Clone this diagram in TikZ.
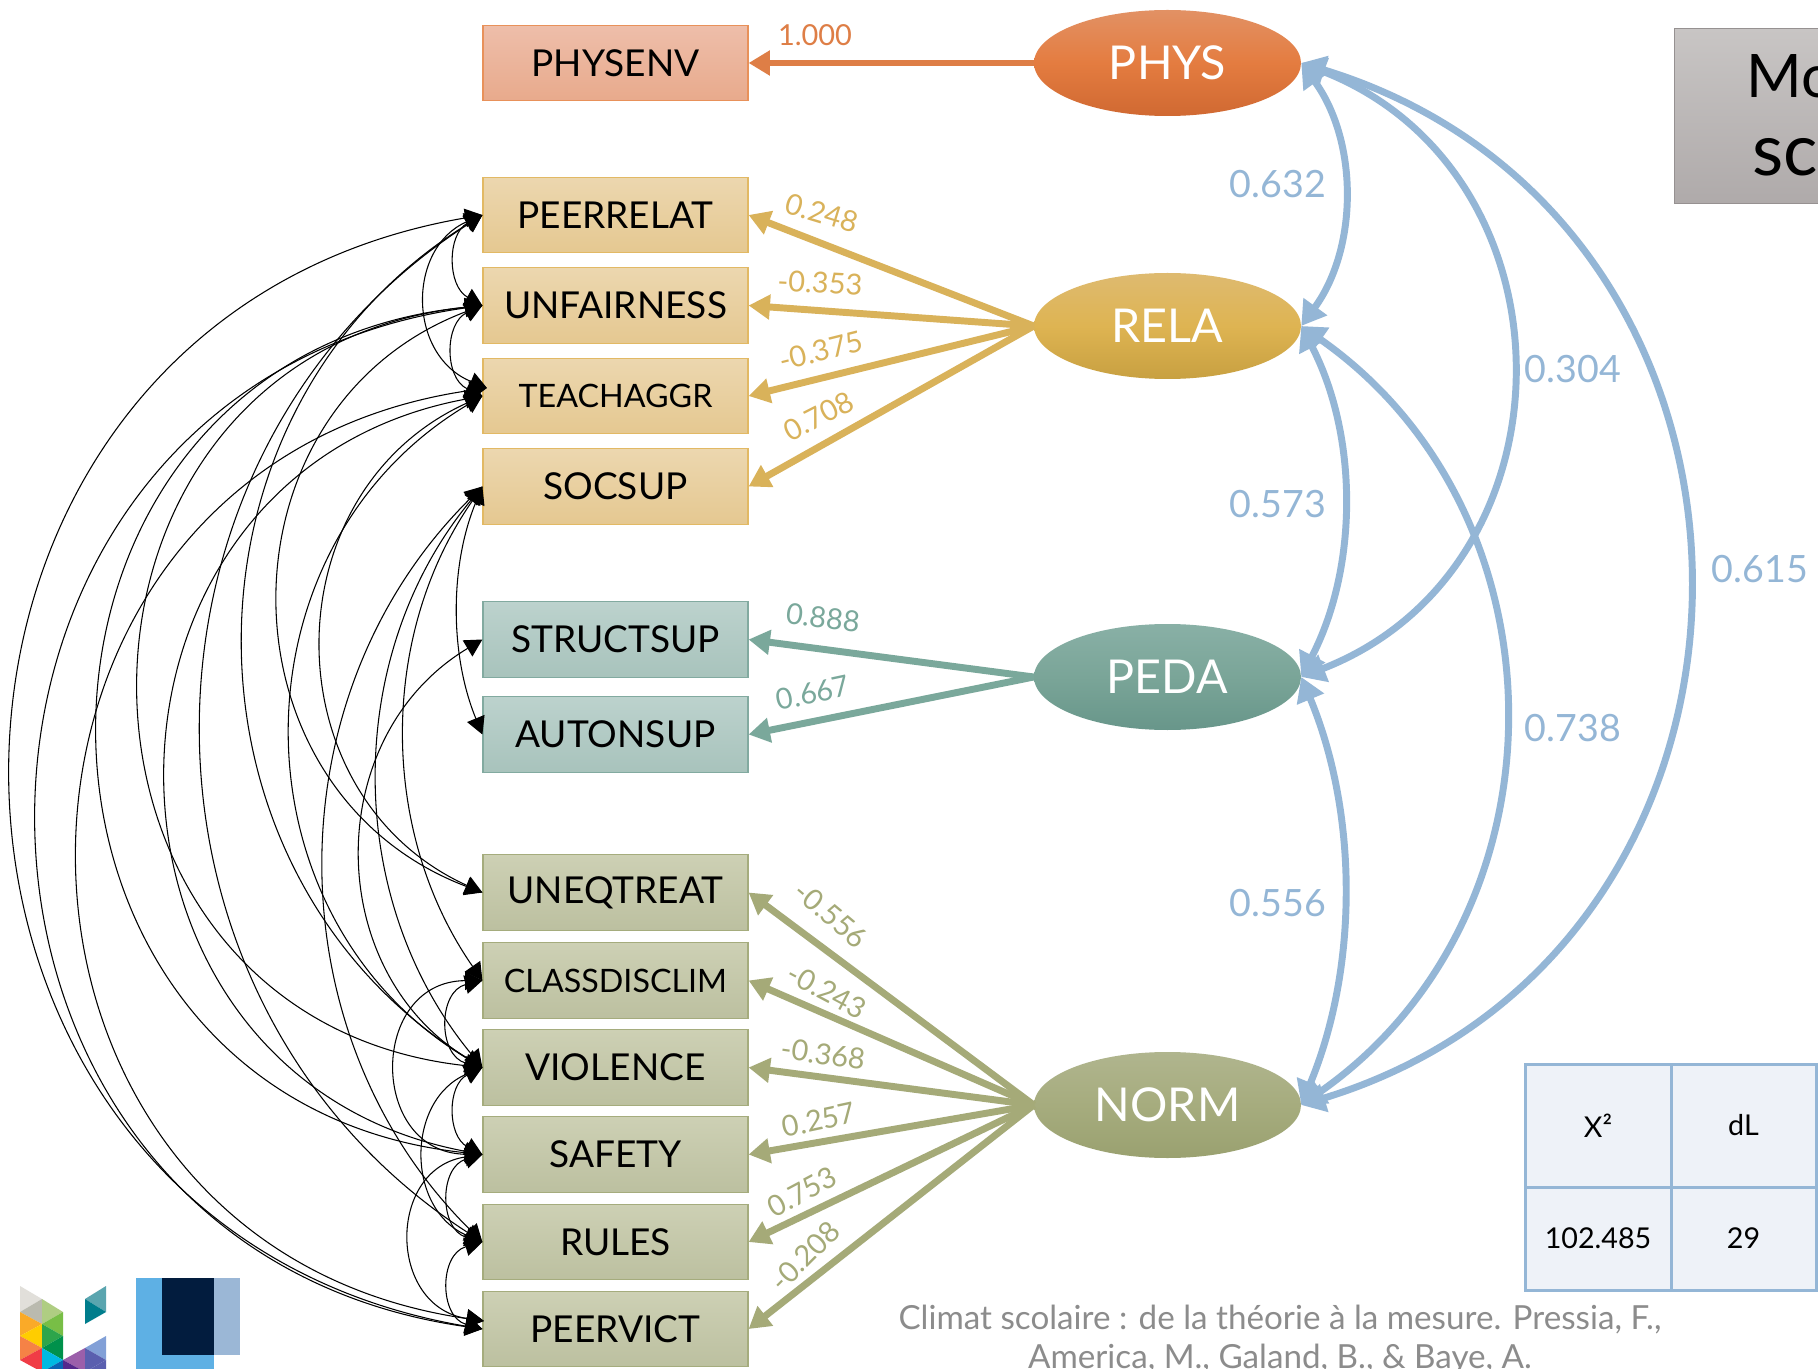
\documentclass[tikz,border=0pt]{standalone}
\usepackage{fontspec}
\setmainfont{Lato}
\usetikzlibrary{arrows.meta,shapes.geometric}
\definecolor{cOr}{RGB}{222,126,70}
\definecolor{cYe}{RGB}{217,178,90}
\definecolor{cTe}{RGB}{122,168,155}
\definecolor{cOl}{RGB}{165,170,120}
\definecolor{cBl}{RGB}{148,182,214}
\definecolor{cGr}{RGB}{140,140,140}
\definecolor{cCell}{RGB}{238,242,248}
\newcommand{\tri}[4]{\fill[fill={rgb,255:red,#1}] #2 -- #3 -- #4 -- cycle;}
\tikzset{
 x=0.75pt,y=-0.75pt,
 obs/.style={rectangle,minimum width=198.75pt,minimum height=56.5pt,inner sep=0pt,line width=0.9pt,text=black,font=\fontsize{27.8}{30}\selectfont},
 obsOr/.style={obs,draw={rgb,255:red,232;green,145;blue,90},top color={rgb,255:red,238;green,190;blue,170},bottom color={rgb,255:red,232;green,170;blue,140}},
 obsYe/.style={obs,draw={rgb,255:red,226;green,185;blue,100},top color={rgb,255:red,236;green,215;blue,175},bottom color={rgb,255:red,229;green,200;blue,145}},
 obsTe/.style={obs,draw={rgb,255:red,130;green,170;blue,160},top color={rgb,255:red,188;green,210;blue,205},bottom color={rgb,255:red,168;green,195;blue,188}},
 obsOl/.style={obs,draw={rgb,255:red,165;green,172;blue,125},top color={rgb,255:red,205;green,208;blue,180},bottom color={rgb,255:red,188;green,192;blue,160}},
 latent/.style={ellipse,minimum width=200.25pt,minimum height=79.5pt,inner sep=0pt,text=white,font=\fontsize{35}{38}\selectfont},
 load/.style={line width=5.2pt,-{Triangle[length=16pt,width=18pt]}},
 corr/.style={line width=0.8pt,black,{Triangle[length=13pt,width=14pt]}-{Triangle[length=13pt,width=14pt]}},
 cov/.style={line width=5.2pt,cBl,{Triangle[length=18pt,width=21pt]}-{Triangle[length=18pt,width=21pt]}},
 wei/.style={inner sep=0pt,font=\fontsize{21.7}{23}\selectfont},
 covlab/.style={inner sep=0pt,text=cBl,font=\fontsize{28.2}{30}\selectfont},
 cell/.style={rectangle,draw=cBl,line width=2.25pt,fill=cCell,inner sep=0pt,text=black,font=\fontsize{21.5}{24}\selectfont},
}
\begin{document}
\begin{tikzpicture}
\useasboundingbox (0,0) rectangle (1818,1369);
\clip (0,0) rectangle (1818,1369);
\fill[white] (0,0) rectangle (1818,1369);
% title box
\node[rectangle,draw={rgb,255:red,150;green,145;blue,145},line width=0.9pt,top color={rgb,255:red,200;green,197;blue,196},bottom color={rgb,255:red,175;green,170;blue,170},minimum width=150pt,minimum height=131pt,anchor=north west,inner sep=0pt] (title) at (1674,28) {};
\node[anchor=base west,inner sep=0pt,font=\fontsize{45}{48}\selectfont] (t1) at (1746,98) {Mo};
\node[anchor=base west,inner sep=0pt,font=\fontsize{54}{56}\selectfont] (t2) at (1752,176) {sc};
% observed
\node[obsOr] (ph) at (615.5,63) {PHYSENV};
\node[obsYe] (pr) at (615.5,215) {PEERRELAT};
\node[obsYe] (un) at (615.5,305.5) {UNFAIRNESS};
\node[obsYe,font=\fontsize{24.2}{26}\selectfont] (ta) at (615.5,396) {TEACHAGGR};
\node[obsYe] (so) at (615.5,486.5) {SOCSUP};
\node[obsTe] (st) at (615.5,639.5) {STRUCTSUP};
\node[obsTe] (au) at (615.5,734.5) {AUTONSUP};
\node[obsOl] (ue) at (615.5,892.5) {UNEQTREAT};
\node[obsOl,font=\fontsize{24.2}{26}\selectfont] (cd) at (615.5,980.5) {CLASSDISCLIM};
\node[obsOl] (vi) at (615.5,1067.5) {VIOLENCE};
\node[obsOl] (sa) at (615.5,1154.5) {SAFETY};
\node[obsOl] (ru) at (615.5,1242) {RULES};
\node[obsOl] (pv) at (615.5,1329) {PEERVICT};
% latent
\node[latent,top color={rgb,255:red,226;green,145;blue,100},bottom color={rgb,255:red,208;green,105;blue,50},middle color={rgb,255:red,228;green,124;blue,64}] (PH) at (1167.5,63) {PHYS};
\node[latent,top color={rgb,255:red,222;green,186;blue,112},bottom color={rgb,255:red,200;green,160;blue,65},middle color={rgb,255:red,222;green,180;blue,82}] (RE) at (1167.5,326) {RELA};
\node[latent,top color={rgb,255:red,137;green,176;blue,166},bottom color={rgb,255:red,104;green,150;blue,138},middle color={rgb,255:red,122;green,165;blue,152}] (PE) at (1167.5,677) {PEDA};
\node[latent,top color={rgb,255:red,176;green,181;blue,142},bottom color={rgb,255:red,154;green,161;blue,112},middle color={rgb,255:red,166;green,172;blue,126}] (NO) at (1167.5,1105) {NORM};
% loadings
\draw[load,cOr] (PH.west) -- (ph.east);
\foreach \t in {pr,un,ta,so} \draw[load,cYe] (RE.west) -- (\t.east);
\foreach \t in {st,au} \draw[load,cTe] (PE.west) -- (\t.east);
\foreach \t in {ue,cd,vi,sa,ru,pv} \draw[load,cOl] (NO.west) -- (\t.east);
% loading labels
\node[wei,text=cOr] (w1) at (815,35) {1.000};
\node[wei,text=cYe,rotate=-17] (w2) at (822,213) {0.248};
\node[wei,text=cYe,rotate=-3] (w3) at (820,283) {-0.353};
\node[wei,text=cYe,rotate=14] (w4) at (821,351) {-0.375};
\node[wei,text=cYe,rotate=27] (w5) at (819,416) {0.708};
\node[wei,text=cTe,rotate=-7] (w6) at (823,618) {0.888};
\node[wei,text=cTe,rotate=12] (w7) at (813,693) {0.667};
\node[wei,text=cOl,rotate=-40] (w8) at (831,915) {-0.556};
\node[wei,text=cOl,rotate=-28] (w9) at (827,991) {-0.243};
\node[wei,text=cOl,rotate=-8] (w10) at (823,1054) {-0.368};
\node[wei,text=cOl,rotate=12] (w11) at (819,1120) {0.257};
\node[wei,text=cOl,rotate=28] (w12) at (802,1192) {0.753};
\node[wei,text=cOl,rotate=45] (w13) at (805,1256) {-0.208};
% covariances between factors
\foreach \a/\b/\ya/\yb/\xr in {PH/RE/63/326/1344,RE/PE/326/677/1344,PE/NO/677/1105/1344,PH/PE/63/677/1511,RE/NO/326/1105/1504,PH/NO/63/1105/1687}{
 \pgfmathsetmacro\mys{\xr-1301}
 \pgfmathsetmacro\myc{\yb-\ya}
 \pgfmathsetmacro\myth{2*atan(2*\mys/\myc)}
 \pgfmathsetmacro\myd{\mys/0.75}
 \pgfmathsetmacro\mydy{\myd*cot(\myth)}
 \draw[cov] (\a.east) .. controls ({1301+\myd},{\ya+\mydy}) and ({1301+\myd},{\yb-\mydy}) .. (\b.east);
}
\node[covlab] (c1) at (1278,184) {0.632};
\node[covlab] (c2) at (1573,369) {0.304};
\node[covlab] (c3) at (1278,504) {0.573};
\node[covlab] (c4) at (1760,569) {0.615};
\node[covlab] (c5) at (1573,728) {0.738};
\node[covlab] (c6) at (1278,903) {0.556};
% residual correlations
\coordinate (ta2) at (487,388);
\coordinate (pv2) at (484,1321);
\foreach \a/\b/\ya/\yb/\xl in {
 pr.west/pv.west/215/1329/13, un.west/pv.west/305/1329/39, ta2/pv2/388/1321/79, un.west/sa.west/305/1154/100, un.west/vi.west/305/1067/141,
 ta.west/sa.west/396/1154/168, pr.west/ru.west/215/1242/203, pr.west/vi.west/215/1067/245, ta.west/vi.west/396/1067/292, un.west/ue.west/305/892/280,
 ta.west/ue.west/396/892/323, so.west/ru.west/486/1242/325, so.west/vi.west/486/1067/378, so.west/cd.west/486/980/405, st.west/vi.west/639/1067/362,
 so.west/au.west/486/734/458, pr.west/un.west/215/305/456, un.west/ta.west/305/396/454, pr.west/ta2/215/388/426,
 cd.west/vi.west/980/1067/449, vi.west/sa.west/1067/1154/456, cd.west/sa.west/980/1154/397, vi.west/ru.west/1067/1242/425,
 sa.west/ru.west/1154/1242/450, ru.west/pv.west/1242/1329/450, sa.west/pv2/1154/1321/411}{
 \pgfmathsetmacro\mys{483-\xl}
 \pgfmathsetmacro\myc{\yb-\ya}
 \pgfmathsetmacro\myth{2*atan(2*\mys/\myc)}
 \pgfmathsetmacro\myd{\mys/0.75}
 \pgfmathsetmacro\mydy{\myd*cot(\myth)}
 \draw[corr] (\a) .. controls ({483-\myd},{\ya+\mydy}) and ({483-\myd},{\yb-\mydy}) .. (\b);
}
% table
\node[cell,minimum width=109.5pt,minimum height=92.25pt] (x2) at (1598,1125.5) {X²};
\node[cell,minimum width=108.75pt,minimum height=92.25pt] (dl) at (1743.5,1125.5) {dL};
\node[cell,minimum width=109.5pt,minimum height=77.25pt] (vx) at (1598,1238.5) {102.485};
\node[cell,minimum width=108.75pt,minimum height=77.25pt] (vd) at (1743.5,1238.5) {29};
% citation
\node[inner sep=0pt,text=cGr,font=\fontsize{24.9}{27}\selectfont] (cit1) at (1280,1320) {Climat scolaire : de la théorie à la mesure. Pressia, F.,};
\node[inner sep=0pt,text=cGr,font=\fontsize{24.9}{27}\selectfont] (cit2) at (1280,1359) {America, M., Galand, B., \& Baye, A.};
% right logo
\fill[fill={rgb,255:red,94;green,176;blue,228}] (136,1278) rectangle (214,1369);
\fill[fill={rgb,255:red,155;green,183;blue,214}] (214,1278) rectangle (240,1355);
\fill[fill={rgb,255:red,2;green,28;blue,62}] (162,1278) rectangle (214,1355);
% left logo
\tri{225;green,223;blue,218}{(20,1286)}{(42,1299)}{(20,1312)}
\tri{186;green,186;blue,175}{(20,1312)}{(42,1299)}{(42,1324)}
\tri{250;green,170;blue,40}{(20,1312)}{(42,1324)}{(20,1336)}
\tri{255;green,205;blue,0}{(20,1336)}{(42,1324)}{(42,1348)}
\tri{245;green,130;blue,70}{(20,1336)}{(42,1348)}{(20,1360)}
\tri{240;green,60;blue,70}{(20,1360)}{(42,1348)}{(42,1372)}
\tri{175;green,205;blue,130}{(42,1299)}{(63,1312)}{(42,1324)}
\tri{120;green,190;blue,70}{(63,1312)}{(42,1324)}{(63,1336)}
\tri{45;green,165;blue,75}{(42,1324)}{(63,1336)}{(42,1348)}
\tri{0;green,145;blue,75}{(63,1336)}{(42,1348)}{(63,1360)}
\tri{0;green,185;blue,225}{(42,1348)}{(63,1360)}{(42,1372)}
\tri{10;green,100;blue,180}{(63,1360)}{(42,1372)}{(63,1385)}
\tri{155;green,95;blue,170}{(63,1360)}{(85,1348)}{(85,1372)}
\tri{85;green,40;blue,140}{(63,1360)}{(85,1372)}{(63,1385)}
\tri{130;green,160;blue,215}{(85,1348)}{(106,1336)}{(106,1360)}
\tri{90;green,95;blue,175}{(85,1348)}{(106,1360)}{(85,1372)}
\tri{90;green,95;blue,175}{(85,1372)}{(106,1360)}{(106,1385)}
\tri{90;green,165;blue,175}{(85,1299)}{(106,1286)}{(106,1312)}
\tri{0;green,125;blue,140}{(85,1299)}{(106,1312)}{(85,1324)}
\end{tikzpicture}
\end{document}
